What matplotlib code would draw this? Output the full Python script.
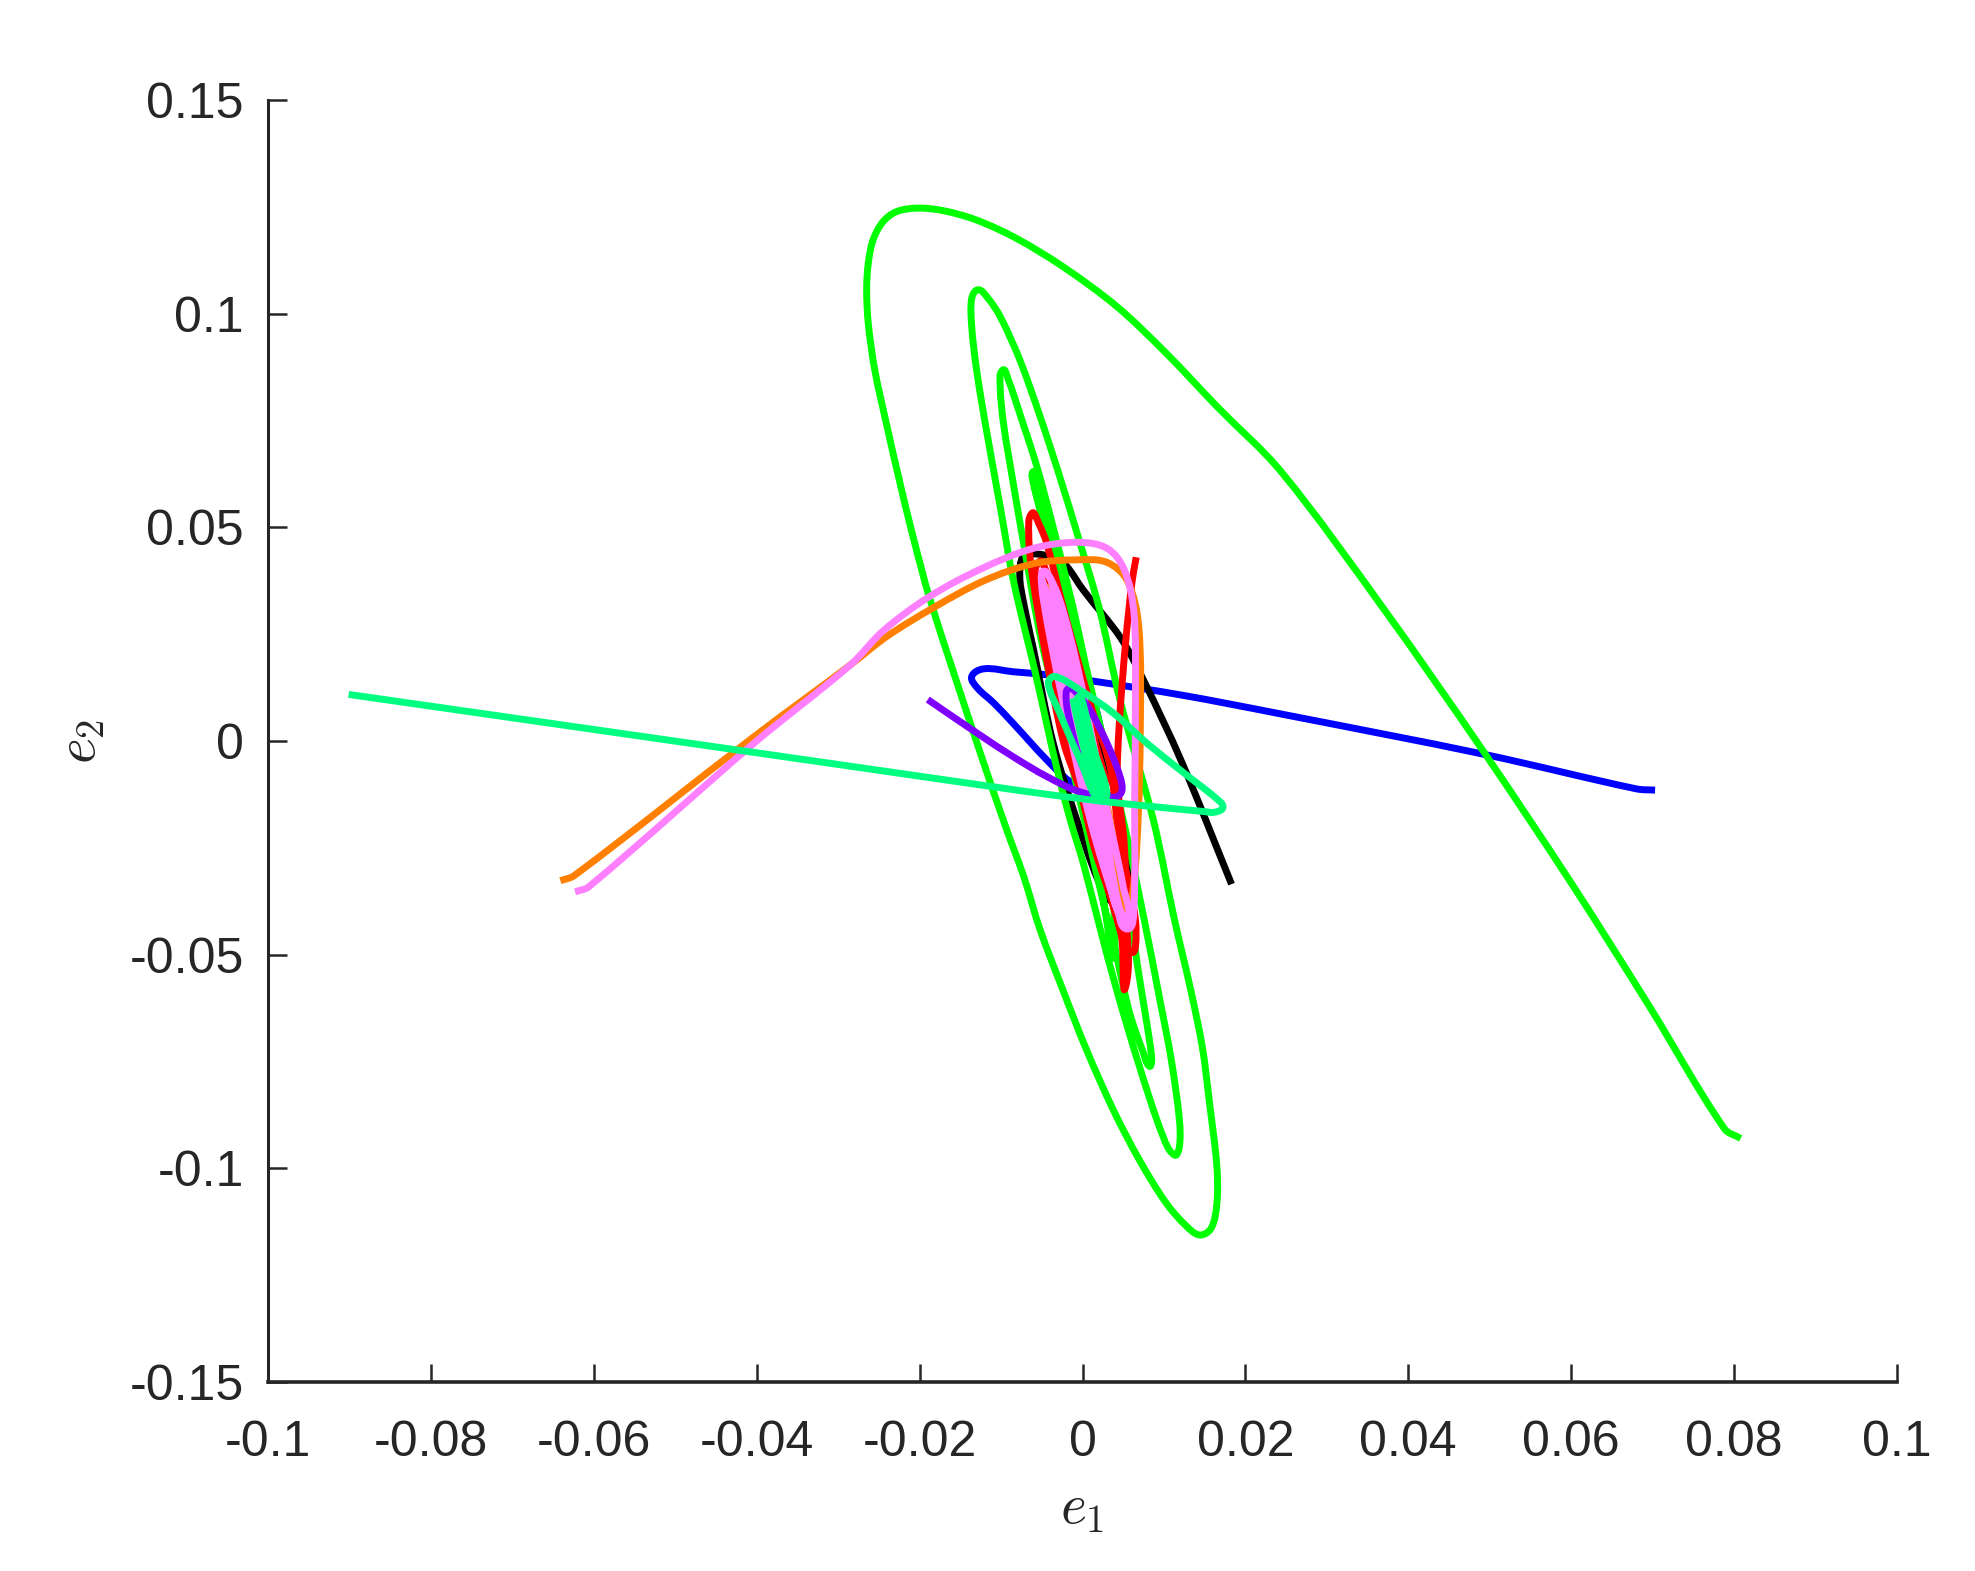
import matplotlib
matplotlib.use('Agg')
import matplotlib.pyplot as plt
import numpy as np
from matplotlib.patches import PathPatch
from matplotlib.path import Path

plt.rcParams['font.family'] = ['Liberation Sans', 'DejaVu Sans']
plt.rcParams['mathtext.fontset'] = 'cm'

# Data
x_ticks = [-0.1, -0.08, -0.06, -0.04, -0.02, 0, 0.02, 0.04, 0.06, 0.08, 0.1]
x_tick_labels = ['-0.1', '-0.08', '-0.06', '-0.04', '-0.02', '0', '0.02', '0.04', '0.06', '0.08', '0.1']
y_ticks = [-0.15, -0.1, -0.05, 0, 0.05, 0.1, 0.15]
y_tick_labels = ['-0.15', '-0.1', '-0.05', '0', '0.05', '0.1', '0.15']

blue_e1 = [0.0703, 0.068, 0.0495, 0.0247, 0.0120, 0.0017, -0.0044, -0.0085, -0.0121, -0.0136, -0.0129, -0.0109, -0.0085, -0.0044, -0.0015, 0.0018, 0.0038, 0.0040, 0.0030, 0.0005, -0.0010, -0.0015, 0.0005, 0.0030]
blue_e2 = [-0.0115, -0.0112, -0.0032, 0.0062, 0.0108, 0.0139, 0.0155, 0.0162, 0.0169, 0.0151, 0.0124, 0.0089, 0.0041, -0.0044, -0.0095, -0.0122, -0.0126, -0.0107, -0.0037, 0.0135, 0.0110, 0.0040, -0.0080, -0.0110]

black_e1 = [0.0183, 0.0122, 0.0075, 0.0047, 0.0001, -0.0019, -0.0032, -0.0060, -0.0073, -0.0077, -0.0073, -0.0060, -0.0036, -0.0007, 0.0019, 0.0035, 0.0050, 0.0056, 0.0056, 0.0046, 0.0030, 0.0020, -0.0003, -0.0015]
black_e2 = [-0.0335, -0.0050, 0.0142, 0.0241, 0.0353, 0.0408, 0.0428, 0.0438, 0.0432, 0.0385, 0.0330, 0.0213, -0.0005, -0.0185, -0.0325, -0.0375, -0.0370, -0.0333, -0.0286, -0.0180, -0.0044, 0.0000, 0.0119, 0.0220]

green_e1 = [0.0808, 0.0788, 0.0696, 0.0603, 0.0495, 0.0371, 0.0244, 0.0165, 0.0103, 0.0042, -0.0024, -0.0081, -0.0130, -0.0171, -0.0202, -0.0228, -0.0245, -0.0257, -0.0263, -0.0265, -0.0263, -0.0255, -0.0240, -0.0224, -0.0208, -0.0187, -0.0126, -0.0093, -0.0072, -0.0052, -0.0024, 0.0005, 0.0038, 0.0070, 0.0103, 0.0128, 0.0144, 0.0158, 0.0165, 0.0165, 0.0156, 0.0147, 0.0132, 0.0113, 0.0087, 0.0046, 0.0021, -0.0003, -0.0028, -0.0052, -0.0077, -0.0101, -0.0116, -0.0128, -0.0136, -0.0136, -0.0130, -0.0118, -0.0101, -0.0085, -0.0058, -0.0032, -0.0015, 0.0001, 0.0021, 0.0042, 0.0070, 0.0099, 0.0113, 0.0119, 0.0119, 0.0109, 0.0095, 0.0075, 0.0050, 0.0009, -0.0011, -0.0032, -0.0056, -0.0077, -0.0091, -0.0098, -0.0101, -0.0097, -0.0085, -0.0073, -0.0050, -0.0020, 0.0021, 0.0040, 0.0058, 0.0075, 0.0082, 0.0085, 0.0079, 0.0067, 0.0056, 0.0020, -0.0044, -0.0052, -0.0060, -0.0062, -0.0048, -0.0019, 0.0015, 0.0040, 0.0015, -0.0015, -0.0040]
green_e2 = [-0.0930, -0.0907, -0.0621, -0.0341, -0.0032, 0.0306, 0.0630, 0.0783, 0.0907, 0.1017, 0.1110, 0.1176, 0.1219, 0.1241, 0.1247, 0.1239, 0.1215, 0.1173, 0.1118, 0.1056, 0.0977, 0.0868, 0.0736, 0.0603, 0.0478, 0.0330, -0.0025, -0.0208, -0.0318, -0.0442, -0.0583, -0.0723, -0.0864, -0.0981, -0.1082, -0.1136, -0.1156, -0.1140, -0.1082, -0.0996, -0.0848, -0.0715, -0.0575, -0.0419, -0.0185, 0.0096, 0.0307, 0.0463, 0.0619, 0.0759, 0.0892, 0.0993, 0.1036, 0.1056, 0.1036, 0.0970, 0.0868, 0.0728, 0.0548, 0.0377, 0.0160, -0.0060, -0.0185, -0.0286, -0.0434, -0.0583, -0.0762, -0.0926, -0.0969, -0.0949, -0.0887, -0.0746, -0.0606, -0.0411, -0.0185, 0.0135, 0.0307, 0.0470, 0.0642, 0.0766, 0.0845, 0.0868, 0.0829, 0.0743, 0.0603, 0.0470, 0.0230, 0.0000, -0.0341, -0.0489, -0.0637, -0.0731, -0.0761, -0.0746, -0.0661, -0.0520, -0.0364, -0.0100, 0.0517, 0.0603, 0.0630, 0.0619, 0.0509, 0.0307, 0.0000, -0.0492, -0.0250, 0.0050, 0.0300]

red_e1 = [0.0066, 0.0061, 0.0053, 0.0045, 0.0043, 0.0051, 0.0054, 0.0053, 0.0048, 0.0034, 0.0014, -0.0003, -0.0023, -0.0044, -0.0062, -0.0066, -0.0062, -0.0054, -0.0044, -0.0023, -0.0007, 0.0013, 0.0034, 0.0046, 0.0056, 0.0065, 0.0065, 0.0061, 0.0052, 0.0040, 0.0020, -0.0010, -0.0035, -0.0058, -0.0050, -0.0030, 0.0000, 0.0030]
red_e2 = [0.0430, 0.0375, 0.0232, 0.0035, -0.0100, -0.0234, -0.0413, -0.0575, -0.0458, -0.0364, -0.0247, -0.0115, -0.0005, 0.0190, 0.0393, 0.0486, 0.0533, 0.0510, 0.0463, 0.0307, 0.0197, 0.0065, -0.0060, -0.0247, -0.0325, -0.0419, -0.0481, -0.0495, -0.0474, -0.0400, -0.0250, -0.0050, 0.0160, 0.0400, 0.0420, 0.0300, 0.0100, -0.0100]

orange_e1 = [-0.0641, -0.0624, -0.0402, -0.0285, -0.0240, -0.0183, -0.0121, -0.0060, -0.0007, 0.0030, 0.0055, 0.0069, 0.0071, 0.0067, 0.0059, 0.0052, 0.0047, 0.0015, -0.0040, -0.0010, 0.0030, 0.0045]
orange_e2 = [-0.0327, -0.0315, 0.0012, 0.0178, 0.0245, 0.0312, 0.0375, 0.0415, 0.0424, 0.0418, 0.0375, 0.0268, 0.0035, -0.0234, -0.0387, -0.0399, -0.0350, -0.0110, 0.0340, 0.0100, -0.0150, -0.0330]

magenta_e1 = [-0.0623, -0.0606, -0.0402, -0.0285, -0.0244, -0.0187, -0.0121, -0.0060, -0.0007, 0.0030, 0.0051, 0.0063, 0.0065, 0.0064, 0.0063, 0.0055, 0.0043, 0.0010, -0.0025, -0.0048, -0.0050, -0.0044, -0.0028, -0.0007, 0.0018, 0.0033, 0.0050, 0.0056, 0.0044, 0.0026, 0.0010, -0.0015, -0.0034, -0.0047, -0.0040, -0.0022, 0.0002, 0.0018, 0.0038, 0.0044, 0.0012, -0.0006, -0.0029, -0.0044]
magenta_e2 = [-0.0353, -0.0341, -0.0003, 0.0178, 0.0259, 0.0339, 0.0406, 0.0451, 0.0465, 0.0451, 0.0402, 0.0303, 0.0124, -0.0144, -0.0395, -0.0440, -0.0395, -0.0189, 0.0100, 0.0330, 0.0395, 0.0395, 0.0330, 0.0180, -0.0050, -0.0185, -0.0341, -0.0420, -0.0380, -0.0185, -0.0050, 0.0180, 0.0330, 0.0390, 0.0330, 0.0180, -0.0050, -0.0185, -0.0370, -0.0400, -0.0185, -0.0050, 0.0180, 0.0340]

purple_e1 = [-0.0190, -0.0126, -0.0085, -0.0044, -0.0003, 0.0038, 0.0048, 0.0046, 0.0030, 0.0009, -0.0005, -0.0017, -0.0020, -0.0015, -0.0003, 0.0015]
purple_e2 = [0.0097, 0.0014, -0.0037, -0.0083, -0.0119, -0.0132, -0.0119, -0.0083, -0.0005, 0.0073, 0.0108, 0.0123, 0.0096, 0.0041, -0.0044, -0.0120]

spring_e1 = [-0.0901, -0.0285, -0.0121, -0.0019, 0.0063, 0.0149, 0.0161, 0.0172, 0.0170, 0.0120, 0.0079, 0.0038, -0.0003, -0.0034, -0.0042, -0.0028, -0.0003, 0.0019, 0.0030, 0.0014, -0.0002, -0.0006, 0.0008, 0.0022, 0.0016, 0.0002, -0.0012]
spring_e2 = [0.0109, -0.0059, -0.0104, -0.0131, -0.0149, -0.0165, -0.0167, -0.0158, -0.0144, -0.0068, -0.0005, 0.0065, 0.0119, 0.0151, 0.0135, 0.0065, -0.0044, -0.0138, -0.0125, -0.0020, 0.0105, 0.0100, -0.0020, -0.0125, -0.0125, -0.0020, 0.0100]

fig = plt.figure(figsize=(19.75, 15.71), dpi=100)
ax = fig.add_axes([268 / 1975, 1 - 1382 / 1571, (1897 - 268) / 1975, (1382 - 100) / 1571])
ax.set_xlim(-0.1, 0.1)
ax.set_ylim(-0.15, 0.15)


def smooth_line(e1, e2):
    # draw the read points as one Bezier line, so the read values stay the only vertices
    aspect = 8145 / 4273
    pts = np.column_stack([e1, e2])
    scaled = pts * [aspect, 1]
    verts = [pts[0]]
    codes = [Path.MOVETO]
    tangents = np.zeros_like(scaled)
    for i in range(len(pts)):
        d = scaled[min(i + 1, len(pts) - 1)] - scaled[max(i - 1, 0)]
        tangents[i] = d / max(np.linalg.norm(d), 1e-9)
    for i in range(len(pts) - 1):
        step = np.linalg.norm(scaled[i + 1] - scaled[i]) / 3
        verts.append((scaled[i] + tangents[i] * step) / [aspect, 1])
        verts.append((scaled[i + 1] - tangents[i + 1] * step) / [aspect, 1])
        verts.append(pts[i + 1])
        codes += [Path.CURVE4, Path.CURVE4, Path.CURVE4]
    return Path(verts, codes)


# Drawing order as in the picture, later series on top
series = [
    (blue_e1, blue_e2, '#0000ff'),
    (black_e1, black_e2, '#000000'),
    (green_e1, green_e2, '#00ff00'),
    (red_e1, red_e2, '#ff0000'),
    (orange_e1, orange_e2, '#ff8000'),
    (magenta_e1, magenta_e2, '#ff80ff'),
    (purple_e1, purple_e2, '#8000ff'),
    (spring_e1, spring_e2, '#00ff80'),
]
for e1, e2, color in series:
    ax.add_patch(PathPatch(smooth_line(e1, e2), fill=False, edgecolor=color, linewidth=5,
                           joinstyle='round', capstyle='butt'))

ax.set_xticks(x_ticks)
ax.set_xticklabels(x_tick_labels)
ax.set_yticks(y_ticks)
ax.set_yticklabels(y_tick_labels)

ax.spines['top'].set_visible(False)
ax.spines['right'].set_visible(False)
ax.spines['left'].set_linewidth(2.2)
ax.spines['bottom'].set_linewidth(2.6)
ax.spines['left'].set_color('#262626')
ax.spines['bottom'].set_color('#262626')
ax.tick_params(axis='x', direction='in', length=13, width=1.8, color='#262626',
               labelcolor='#262626', labelsize=36, pad=27)
ax.tick_params(axis='y', direction='in', length=14, width=1.8, color='#262626',
               labelcolor='#262626', labelsize=36, pad=17.5)

ax.set_xlabel(r'$e_1$', fontsize=40, color='#262626', labelpad=13)
ax.set_ylabel(r'$e_2$', fontsize=40, color='#262626', labelpad=16)

fig.savefig('out.png', dpi=100, facecolor='white')
